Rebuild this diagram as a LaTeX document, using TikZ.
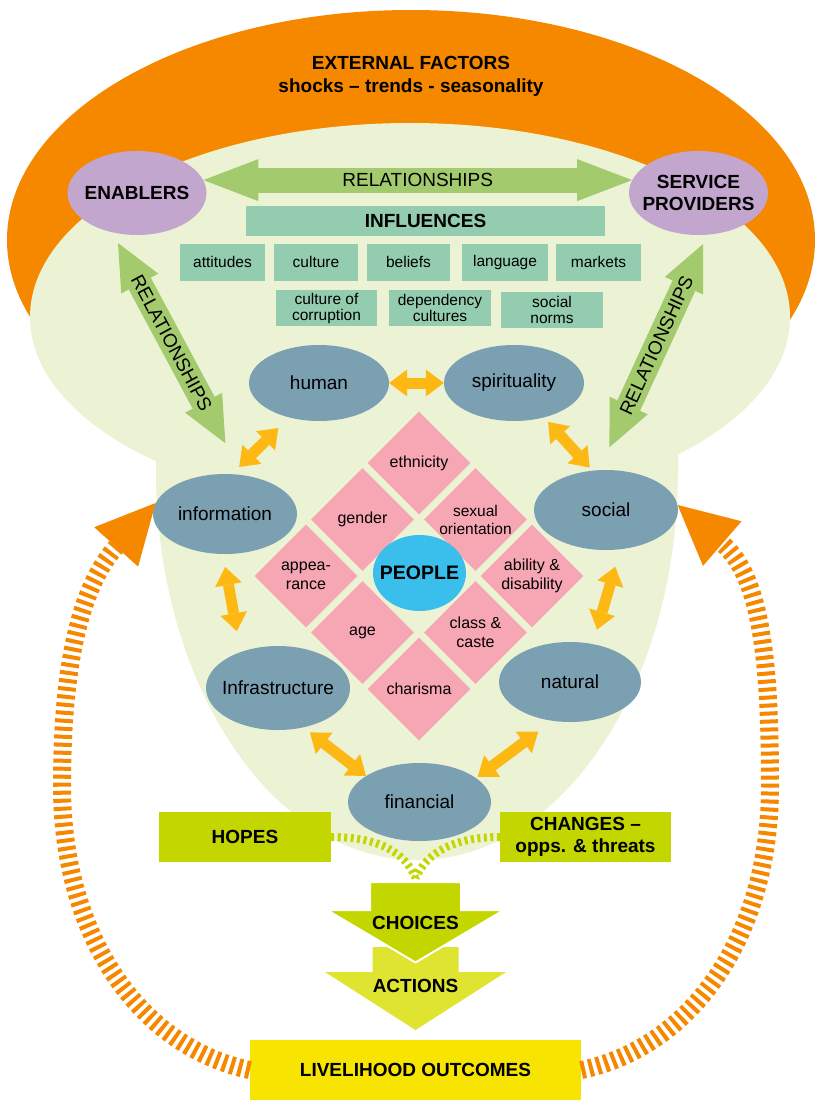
\documentclass[tikz,border=0pt]{standalone}
\usepackage{fontspec}
\setmainfont{Liberation Sans}
\usetikzlibrary{shapes.geometric,arrows.meta}
\definecolor{extorange}{RGB}{246,136,0}
\definecolor{bggreen}{RGB}{236,242,212}
\definecolor{lavender}{RGB}{195,166,206}
\definecolor{relgreen}{RGB}{163,203,110}
\definecolor{infteal}{RGB}{148,204,176}
\definecolor{assetblue}{RGB}{123,160,178}
\definecolor{goldarrow}{RGB}{253,184,19}
\definecolor{pinkd}{RGB}{247,166,180}
\definecolor{peoplecyan}{RGB}{58,190,236}
\definecolor{limegreen}{RGB}{196,214,0}
\definecolor{actyellow}{RGB}{222,228,48}
\definecolor{outyellow}{RGB}{247,228,0}
\begin{document}
\begin{tikzpicture}[x=1pt,y=-1pt,
  lbl/.style={font=\fontsize{19}{22}\selectfont},
  boldlbl/.style={font=\bfseries\fontsize{19}{22}\selectfont, align=center},
  actor/.style={ellipse, fill=lavender, inner ysep=0pt, inner xsep=-12pt, minimum width=139pt, minimum height=84pt, align=center, font=\bfseries\fontsize{19}{22}\selectfont},
  asset/.style={ellipse, fill=assetblue, inner ysep=0pt, inner xsep=-12pt, minimum width=143pt, minimum height=79pt, font=\fontsize{19}{22}\selectfont},
  infbox/.style={rectangle, fill=infteal, inner sep=0pt, minimum height=37pt, align=center, font=\fontsize{15.5}{16}\selectfont},
  diam/.style={diamond, fill=pinkd, aspect=1, inner sep=0pt, minimum width=103pt, minimum height=103pt},
  dtext/.style={align=center, font=\fontsize{16}{19}\selectfont},
  keybox/.style={rectangle, fill=limegreen, inner sep=0pt, align=center, font=\bfseries\fontsize{19}{22}\selectfont},
  relarrow/.style={draw=relgreen, line width=25pt, {Triangle[width=42pt,length=46pt,line width=0pt]}-{Triangle[width=42pt,length=46pt,line width=0pt]}},
  goldlink/.style={draw=goldarrow, line width=11pt, {Triangle[width=27pt,length=18pt,line width=0pt]}-{Triangle[width=27pt,length=18pt,line width=0pt]}},
  feedback/.style={draw=extorange, line width=18pt, dash pattern=on 4pt off 4pt, -{Triangle[width=59pt,length=59pt,line width=0pt]}},
  hopelink/.style={draw=limegreen, line width=8pt, dash pattern=on 3pt off 3.5pt}
]
\useasboundingbox (0,0) rectangle (817,1100);
\fill[white] (0,0) rectangle (817,1100);

% background shapes
\fill[extorange] (411,240) ellipse [x radius=404, y radius=230];
\fill[bggreen] (410,317) ellipse [x radius=380, y radius=194];
\fill[bggreen] (156,380) -- (156,470) arc[start angle=180, end angle=0, x radius=261, y radius=390] -- (678,380) -- cycle;

\node[boldlbl, anchor=base] (ext) at (411,69) {EXTERNAL FACTORS};
\node[boldlbl, anchor=base] (extsub) at (411,92) {shocks – trends - seasonality};

% actors
\node[actor] (enablers) at (137,193) {ENABLERS};
\node[actor] (service) at (698.5,193) {SERVICE\\PROVIDERS};

% influences
\node[infbox, minimum width=359pt, minimum height=30pt, font=\bfseries\fontsize{19}{22}\selectfont] (influences) at (425.5,221) {INFLUENCES};
\node[infbox, minimum width=85pt] (attitudes) at (222.5,262) {attitudes};
\node[infbox, minimum width=84pt] (culture) at (316,262) {culture};
\node[infbox, minimum width=83pt] (beliefs) at (408.5,262) {beliefs};
\node[infbox, minimum width=86pt] (language) at (505,262) {language};
\node[infbox, minimum width=85pt] (markets) at (598.5,262) {markets};
\node[infbox, minimum width=101pt, minimum height=36pt] (corruption) at (326.5,308) {culture of\\corruption};
\node[infbox, minimum width=102pt, minimum height=36pt] (dependency) at (440,308) {dependency\\cultures};
\node[infbox, minimum width=102pt, minimum height=36pt] (norms) at (552,310) {social\\norms};

% assets
\node[asset, minimum width=140pt, minimum height=76pt] (human) at (319,383) {human};
\node[asset, minimum width=140pt, minimum height=76pt] (spirituality) at (514,383) {spirituality};
\node[asset, minimum width=144pt, minimum height=80pt] (information) at (225,514) {information};
\node[asset, minimum width=144pt, minimum height=80pt] (social) at (606,510) {social};
\node[asset, minimum width=144pt, minimum height=84pt] (infra) at (278,688) {Infrastructure};
\node[asset, minimum width=142pt, minimum height=80pt] (natural) at (570,682) {natural};
\node[asset, minimum width=143pt, minimum height=78pt] (financial) at (419.5,802) {financial};

% relationships arrows
\draw[relarrow, {Triangle[width=42pt,length=55pt,line width=0pt]}-{Triangle[width=42pt,length=55pt,line width=0pt]}] (enablers.11) -- (service.169) node[midway, lbl] {RELATIONSHIPS};
\draw[relarrow, shorten <=12pt, shorten >=36pt] (enablers.238) -- (information.66) node[pos=0.456, sloped, lbl] {RELATIONSHIPS};
\draw[relarrow, shorten <=10pt, shorten >=25pt] (service.-78) -- (social.100) node[pos=0.47, sloped, lbl] {RELATIONSHIPS};

% gold links
\draw[goldlink] (human.east) -- (spirituality.west);
\draw[goldlink, shorten <=15pt, shorten >=10pt] (human.229) -- (information.80);
\draw[goldlink, shorten <=6pt, shorten >=4pt] (spirituality.-49) -- (social.109);
\draw[goldlink, shorten <=13pt, shorten >=21pt] (information.267) -- (infra.136);
\draw[goldlink, shorten <=18pt, shorten >=15pt] (social.-70) -- (natural.59);
\draw[goldlink, shorten <=8pt] (infra.-57) -- (financial.154);
\draw[goldlink, shorten <=18pt, shorten >=2pt] (natural.246) -- (financial.23);

% diamonds
\node[diam] (ethnicity) at (419,463) {};
\node[diam] (gender) at (362.5,519.5) {};
\node[diam] (sexual) at (475.5,519.5) {};
\node[diam] (appearance) at (306,576) {};
\node[diam] (ability) at (532,576) {};
\node[diam] (age) at (362.5,632.5) {};
\node[diam] (class) at (475.5,632.5) {};
\node[diam] (charisma) at (419,689) {};
\node[dtext] at (ethnicity) {ethnicity};
\node[dtext] at (gender) {gender};
\node[dtext, font=\fontsize{15.5}{18}\selectfont] at (sexual) {sexual\\orientation};
\node[dtext] at (appearance) {appea-\\rance};
\node[dtext] at (ability) {ability \&\\disability};
\node[dtext] at (age) {age};
\node[dtext] at (class) {class \&\\caste};
\node[dtext] at (charisma) {charisma};
\node[ellipse, fill=peoplecyan, minimum width=93pt, minimum height=76pt, inner ysep=0pt, inner xsep=-10pt, font=\bfseries\fontsize{19.5}{22}\selectfont] (people) at (419.5,573) {PEOPLE};

% hopes / changes
\node[keybox, minimum width=172pt, minimum height=50pt] (hopes) at (245,837) {HOPES};
\node[keybox, minimum width=171pt, minimum height=50pt] (changes) at (585.5,837) {CHANGES –\\opps. \& threats};

% choices / actions
\fill[actyellow] (372.5,947) -- (458.5,947) -- (458.5,972) -- (506,972) -- (415.5,1030) -- (325,972) -- (372.5,972) -- cycle;
\filldraw[fill=limegreen, draw=white, line width=2pt] (370,882) -- (461,882) -- (461,910) -- (504,910) -- (415.5,962.5) -- (327,910) -- (370,910) -- cycle;
\node[boldlbl] (choices) at (415.5,923) {CHOICES};
\node[boldlbl] (actions) at (415.5,986) {ACTIONS};
\coordinate (choicein) at (415.5,878);
\draw[hopelink] (hopes.east) .. controls (378,837) and (405,852) .. (choicein);
\draw[hopelink] (changes.west) .. controls (455,837) and (427,852) .. (choicein);

% outcomes
\node[keybox, fill=outyellow, minimum width=331pt, minimum height=60pt] (outcomes) at (415.5,1070) {LIVELIHOOD OUTCOMES};

% feedback loops
\draw[feedback] (outcomes.west) .. controls (140,1047) and (62,936) .. (62,786) .. controls (62,660) and (82,585) .. (information.171);
\draw[feedback] (outcomes.east) .. controls (692,1047) and (770,936) .. (770,786) .. controls (770,660) and (761,577) .. (social.4);
\end{tikzpicture}
\end{document}
